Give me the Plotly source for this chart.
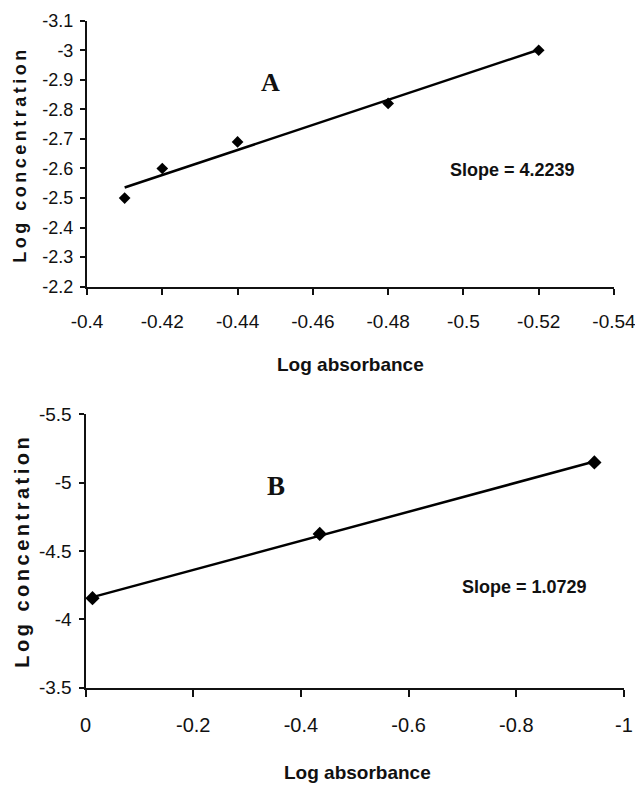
import numpy as np
import plotly.graph_objects as go

# ---- data ----
a_x = [-0.41, -0.42, -0.44, -0.48, -0.52]
a_y = [-2.50, -2.60, -2.69, -2.82, -3.00]
b_x = [-0.013, -0.435, -0.945]
b_y = [-4.155, -4.625, -5.148]

a_xticks = [-0.4, -0.42, -0.44, -0.46, -0.48, -0.5, -0.52, -0.54]
a_xticktext = ["-0.4", "-0.42", "-0.44", "-0.46", "-0.48", "-0.5", "-0.52", "-0.54"]
a_yticks = [-2.2, -2.3, -2.4, -2.5, -2.6, -2.7, -2.8, -2.9, -3.0, -3.1]
a_yticktext = ["-2.2", "-2.3", "-2.4", "-2.5", "-2.6", "-2.7", "-2.8", "-2.9", "-3", "-3.1"]
b_xticks = [0, -0.2, -0.4, -0.6, -0.8, -1.0]
b_xticktext = ["0", "-0.2", "-0.4", "-0.6", "-0.8", "-1"]
b_yticks = [-3.5, -4.0, -4.5, -5.0, -5.5]
b_yticktext = ["-3.5", "-4", "-4.5", "-5", "-5.5"]

slope_a_label = "Slope = 4.2239"
slope_b_label = "Slope = 1.0729"

# trendlines (least squares through the points)
pa = np.polyfit(a_x, a_y, 1)
pb = np.polyfit(b_x, b_y, 1)
a_tx = [min(a_x), max(a_x)]
b_tx = [min(b_x), max(b_x)]

W, H = 635, 786
SANS = "Liberation Sans, Arial, sans-serif"
SERIF = "Liberation Serif, Times New Roman, serif"

fig = go.Figure()
fig.add_trace(go.Scatter(x=a_tx, y=list(np.polyval(pa, a_tx)), mode="lines",
                         line=dict(color="black", width=2.5), xaxis="x", yaxis="y",
                         showlegend=False, hoverinfo="skip"))
fig.add_trace(go.Scatter(x=a_x, y=a_y, mode="markers",
                         marker=dict(symbol="diamond", size=9, color="black"),
                         xaxis="x", yaxis="y", showlegend=False))
fig.add_trace(go.Scatter(x=b_tx, y=list(np.polyval(pb, b_tx)), mode="lines",
                         line=dict(color="black", width=2.5), xaxis="x2", yaxis="y2",
                         showlegend=False, hoverinfo="skip"))
fig.add_trace(go.Scatter(x=b_x, y=b_y, mode="markers",
                         marker=dict(symbol="diamond", size=11, color="black"),
                         xaxis="x2", yaxis="y2", showlegend=False))

axis_common = dict(showline=True, linecolor="#111", linewidth=2, ticks="outside",
                   tickcolor="#111", tickwidth=2, showgrid=False, zeroline=False,
                   automargin=False, ticklabeloverflow="allow")

def px_x(p):
    return p / W

def px_y(p):
    return 1 - p / H

fig.update_layout(
    width=W, height=H,
    margin=dict(l=0, r=0, t=0, b=0),
    paper_bgcolor="white", plot_bgcolor="white",
    showlegend=False,
    xaxis=dict(axis_common, domain=[px_x(87), px_x(614)], range=[-0.4, -0.54],
               tickvals=a_xticks, ticktext=a_xticktext, ticklen=6,
               tickfont=dict(family=SANS, size=19, color="#111"),
               ticklabelstandoff=10, anchor="y"),
    yaxis=dict(axis_common, domain=[px_y(286.7), px_y(20.7)], range=[-2.2, -3.1],
               tickvals=a_yticks, ticktext=a_yticktext, ticklen=5,
               tickfont=dict(family=SANS, size=18, color="#111"),
               ticklabelstandoff=3, anchor="x"),
    xaxis2=dict(axis_common, domain=[px_x(85.5), px_x(624)], range=[0, -1],
                tickvals=b_xticks, ticktext=b_xticktext, ticklen=7,
                tickfont=dict(family=SANS, size=20, color="#111"),
                ticklabelstandoff=11, anchor="y2"),
    yaxis2=dict(axis_common, domain=[px_y(687.7), px_y(414.3)], range=[-3.5, -5.5],
                tickvals=b_yticks, ticktext=b_yticktext, ticklen=5,
                tickfont=dict(family=SANS, size=19, color="#111"),
                ticklabelstandoff=3, anchor="x2"),
)

def ann(text, x, y, family, size, bold=True, angle=0):
    fig.add_annotation(text=text, xref="paper", yref="paper",
                       x=px_x(x), y=px_y(y), xanchor="center", yanchor="middle",
                       showarrow=False, textangle=angle,
                       font=dict(family=family, size=size, color="#111",
                                 weight="bold" if bold else "normal"))

ann("A", 270, 83, SERIF, 26)
ann("B", 276, 486, SERIF, 27)
ann(slope_a_label, 512, 170, SANS, 18)
ann(slope_b_label, 524, 587, SANS, 18)
ann("Log absorbance", 350, 364, SANS, 19)
ann("Log absorbance", 357, 772, SANS, 19)
ann("Log concentration", 20, 155, SANS, 18, angle=-90)
ann("Log concentration", 22, 551, SANS, 20, angle=-90)

post = """
document.querySelectorAll('text.annotation-text').forEach(function(t){
  if (t.textContent.indexOf('Log concentration') === 0) {
    t.style.letterSpacing = '3.5px';
  }
});
"""

fig.write_html("out.html", post_script=post)
